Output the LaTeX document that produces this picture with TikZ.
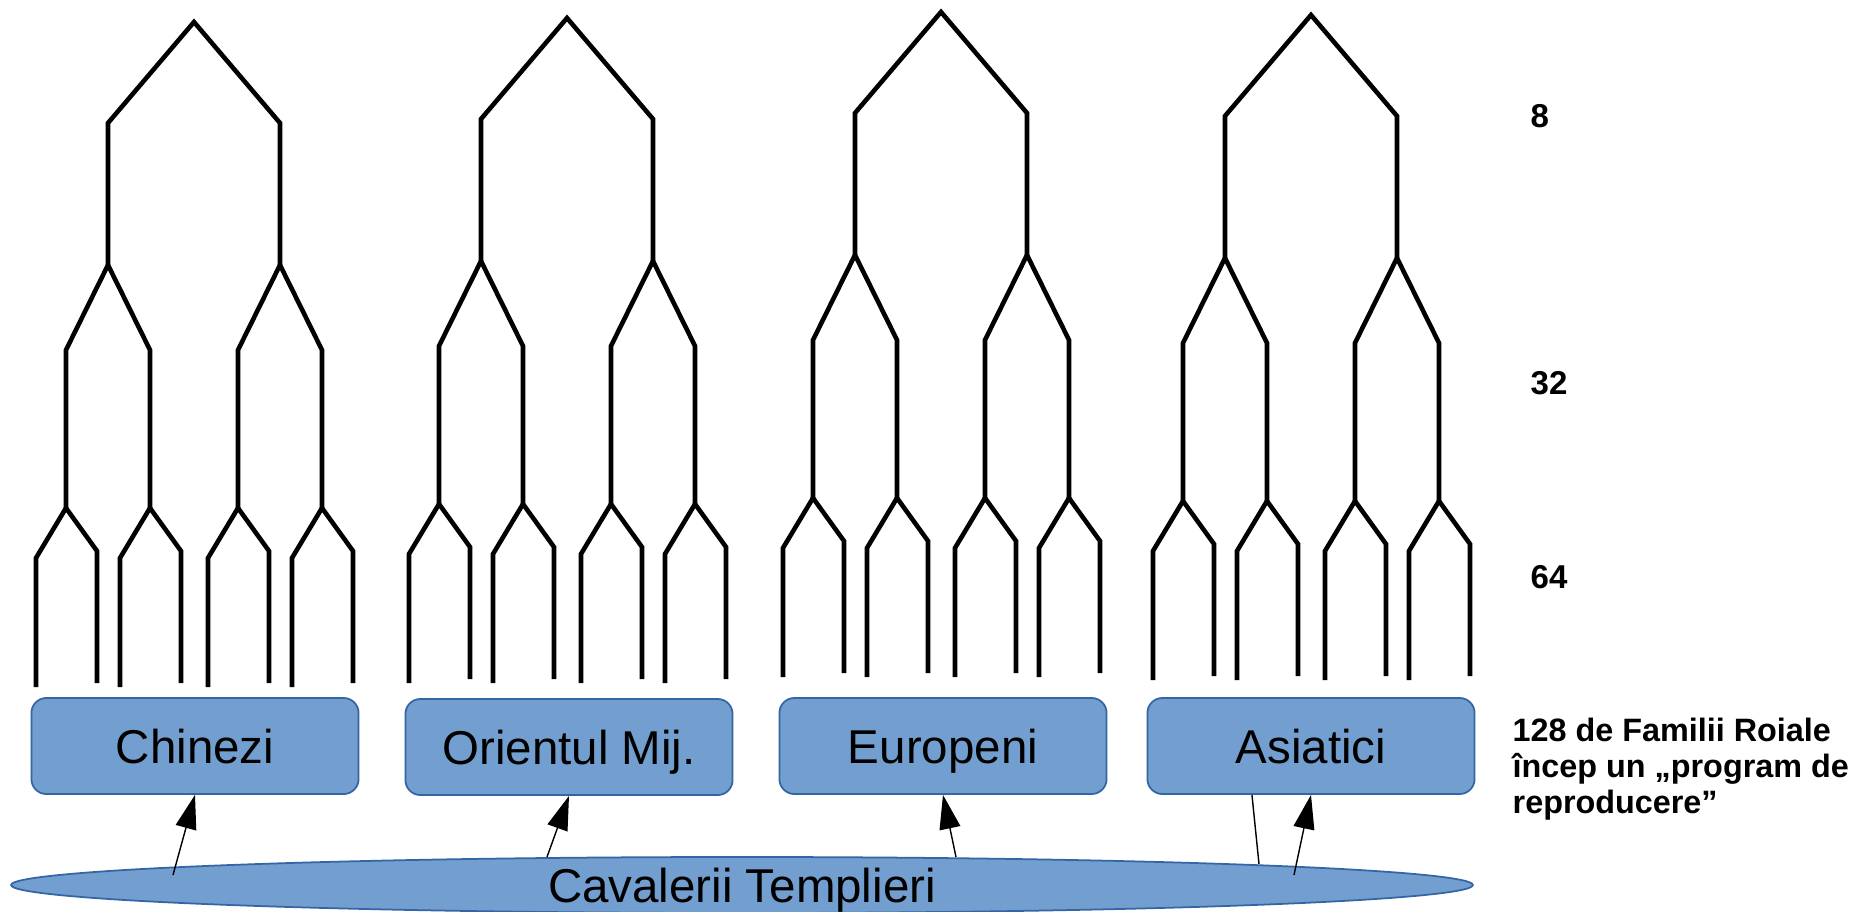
\documentclass[tikz,border=0pt]{standalone}
\usepackage{fontspec}
\setmainfont{Liberation Sans}
\usetikzlibrary{arrows.meta,shapes.geometric}
\definecolor{famfill}{HTML}{729FCF}
\definecolor{famedge}{HTML}{3465A4}
\tikzset{
  branch/.style={line width=1.3pt},
  famblock/.style={draw=famedge, fill=famfill, line width=0.5pt, rounded corners=0.15cm,
    minimum width=3.27cm, minimum height=0.96cm, font=\fontsize{13.5}{15}\selectfont,
    text height=9.7pt, text depth=0pt},
  knights/.style={ellipse, draw=famedge, fill=famfill, line width=0.5pt, inner sep=0pt,
    minimum width=14.61cm, minimum height=0.56cm},
  bigtext/.style={font=\fontsize{13.5}{15}\selectfont, text height=9.7pt, text depth=0pt},
  count/.style={font=\bfseries\fontsize{9.4}{10.1}\selectfont, inner sep=0pt},
  famarrow/.style={line width=0.4pt, -{Triangle[length=0.34cm,width=0.21cm]}}
}
\begin{document}
\begin{tikzpicture}[x=0.01cm, y=-0.01cm]
  \useasboundingbox (0,0) rectangle (1865,911);
  % family trees
  \foreach \tx/\ty in {194/22, 567/18, 941/12, 1311/15} {
    \begin{scope}[shift={(\tx,\ty)}]
      \draw[branch] (-86,243) -- (-86,101) -- (0,0) -- (86,101) -- (86,243);
      \foreach \a in {-86,86} {
        \draw[branch] (\a-42,486) -- (\a-42,328) -- (\a,243) -- (\a+42,328) -- (\a+42,486);
        \foreach \b in {\a-42,\a+42}
          \draw[branch] (\b-30,665) -- (\b-30,536) -- (\b,486) -- (\b+31,529) -- (\b+31,661);
      }
    \end{scope}
  }
  \node[famblock] (chinezi) at (195,746) {Chinezi};
  \node[famblock] (orient) at (569,747) {Orientul Mij.};
  \node[famblock] (europeni) at (943,746) {Europeni};
  \node[famblock] (asiatici) at (1311,746) {Asiatici};
  \node[knights, label={[bigtext]center:Cavalerii Templieri}] (templieri) at (742,885) {};
  \coordinate (t1) at (173,875);
  \coordinate (t2) at (547,857);
  \coordinate (t3) at (956,857);
  \coordinate (t4) at (1294,875);
  \coordinate (t5) at (1259,864);
  \draw[famarrow] (t1) -- (chinezi.south);
  \draw[famarrow] (t2) -- (orient.south);
  \draw[famarrow] (t3) -- (europeni.south);
  \draw[famarrow] (t4) -- (asiatici.south);
  \draw[line width=0.4pt] ([xshift=-0.59cm]asiatici.south) -- (t5);
  % generations
  \node[count, anchor=west] (n8) at (1530,116) {8};
  \node[count, anchor=west] (n32) at (1530,383) {32};
  \node[count, anchor=west] (n64) at (1530,577) {64};
  \node[count, font=\bfseries\fontsize{9.2}{10.1}\selectfont, align=left, anchor=base west] (note) at (1512,813)
    {128 de Familii Roiale\\încep un „program de\\reproducere”};
\end{tikzpicture}
\end{document}
